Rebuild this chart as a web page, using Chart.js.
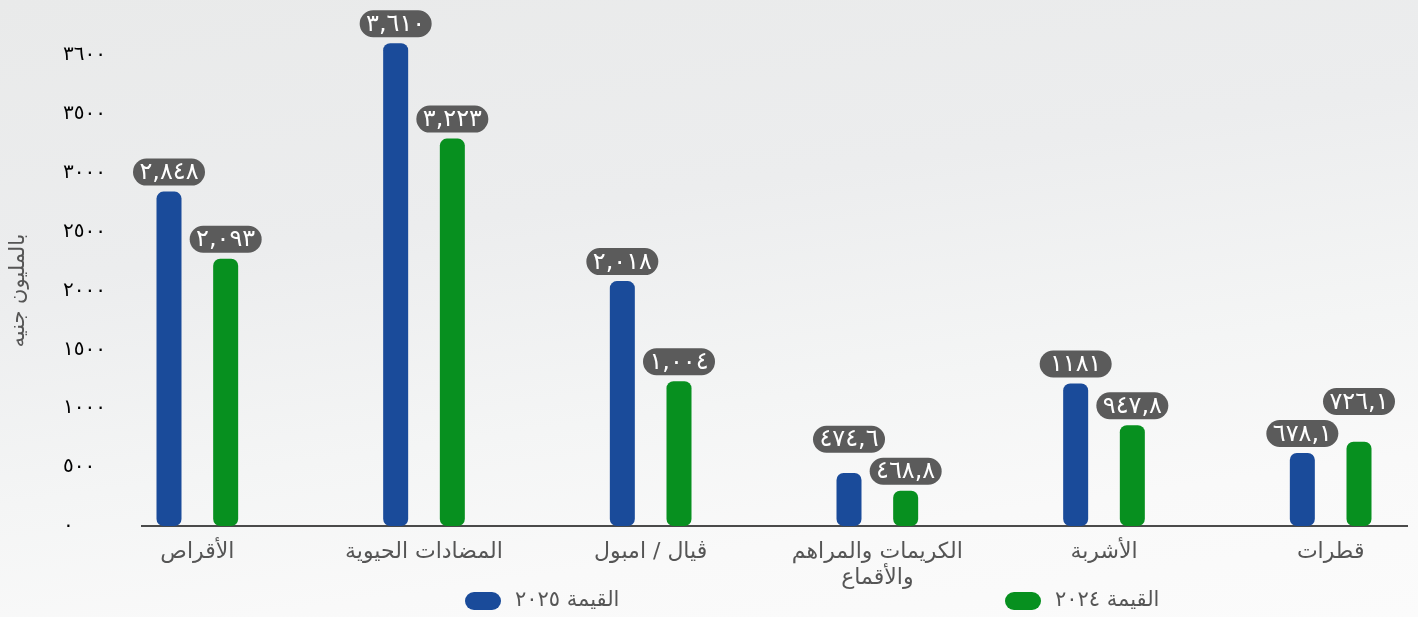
<!DOCTYPE html>
<html lang="ar">
<head>
<meta charset="utf-8">
<script src="https://cdn.jsdelivr.net/npm/chart.js@4.4.0/dist/chart.umd.min.js"></script>
<style>
html, body { margin: 0; padding: 0; }
body {
	width: 1418px; height: 617px; overflow: hidden;
	background: linear-gradient(172deg, #e9eaea 0%, #ecedee 35%, #f4f5f5 62%, #f9f9f9 80%, #fbfbfb 100%);
}
</style>
</head>
<body>
<canvas id="mycanvas" width="1444" height="617"></canvas>
<script>
var categories = ['الأقراص', 'المضادات الحيوية', 'ڤيال / امبول', ['الكريمات والمراهم', 'والأقماع'], 'الأشربة', 'قطرات'];
var seriesNames = ['القيمة ٢٠٢٥', 'القيمة ٢٠٢٤'];

// bar heights
var values2025 = [2840, 4100, 2080, 450, 1210, 620];
var values2024 = [2270, 3290, 1230, 300, 855, 715];

// texts printed in the pills
var labels2025 = ['٢,٨٤٨', '٣,٦١٠', '٢,٠١٨', '٤٧٤,٦', '١١٨١', '٦٧٨,١'];
var labels2024 = ['٢,٠٩٣', '٣,٢٢٣', '١,٠٠٤', '٤٦٨,٨', '٩٤٧,٨', '٧٢٦,١'];

var yTickLabels = ['٠', '٥٠٠', '١٠٠٠', '١٥٠٠', '٢٠٠٠', '٢٥٠٠', '٣٠٠٠', '٣٥٠٠', '٣٦٠٠'];
var yTitle = 'بالمليون جنيه';

var blue = '#1a4b9a';
var green = '#07901f';
var arabicFont = '"DejaVu Sans", sans-serif';

function pillPath(ctx, x, y, w, h) {
	var r = h / 2;
	ctx.beginPath();
	ctx.moveTo(x + r, y);
	ctx.lineTo(x + w - r, y);
	ctx.arc(x + w - r, y + r, r, -Math.PI / 2, Math.PI / 2);
	ctx.lineTo(x + r, y + h);
	ctx.arc(x + r, y + r, r, Math.PI / 2, Math.PI * 1.5);
	ctx.closePath();
}

// baseline under the bars, shorter than the chart area like the original
var baseLine = {
	id: 'baseLine',
	beforeDatasetsDraw: function(chart) {
		var ctx = chart.ctx;
		var y = chart.scales.y.getPixelForValue(0);
		ctx.save();
		ctx.strokeStyle = '#111111';
		ctx.lineWidth = 1.5;
		ctx.beginPath();
		ctx.moveTo(141, y);
		ctx.lineTo(1408, y);
		ctx.stroke();
		ctx.restore();
	}
};

var pillLabels = {
	id: 'pillLabels',
	afterDatasetsDraw: function(chart) {
		var ctx = chart.ctx;
		var texts = [labels2025, labels2024];
		var w = 72, h = 27, gap = 6;
		var pills = [[], []];
		chart.data.datasets.forEach(function(ds, d) {
			chart.getDatasetMeta(d).data.forEach(function(bar, i) {
				pills[d][i] = {x: bar.x, top: bar.y, bottom: bar.y - gap, text: texts[d][i]};
			});
		});
		// lift the taller bar's pill when the two collide
		for (var i = 0; i < categories.length; i++) {
			var a = pills[0][i], b = pills[1][i];
			if (Math.abs(a.x - b.x) < w && Math.abs(a.bottom - b.bottom) < h + 4) {
				var hi = a.top < b.top ? a : b;
				var lo = hi === a ? b : a;
				hi.bottom = lo.bottom - h - 5;
			}
		}
		ctx.save();
		ctx.font = '24px ' + arabicFont;
		ctx.textAlign = 'center';
		ctx.textBaseline = 'middle';
		pills.forEach(function(list) {
			list.forEach(function(p) {
				pillPath(ctx, p.x - w / 2, p.bottom - h, w, h);
				ctx.fillStyle = '#5b5b5b';
				ctx.fill();
				ctx.fillStyle = '#ffffff';
				ctx.fillText(p.text, p.x, p.bottom - h / 2 + 1);
			});
		});
		ctx.restore();
	}
};

var bottomLegend = {
	id: 'bottomLegend',
	afterDraw: function(chart) {
		var ctx = chart.ctx;
		var xs = [465, 1005];
		var y = 601;
		ctx.save();
		ctx.font = '21px ' + arabicFont;
		ctx.textAlign = 'left';
		ctx.textBaseline = 'middle';
		chart.data.datasets.forEach(function(ds, d) {
			pillPath(ctx, xs[d], y - 9, 36, 18);
			ctx.fillStyle = ds.backgroundColor;
			ctx.fill();
			ctx.fillStyle = '#555555';
			ctx.fillText(ds.label, xs[d] + 50, y);
		});
		ctx.restore();
	}
};

var chartdata = {
	labels: categories,
	datasets: [
		{
			label: seriesNames[0],
			backgroundColor: blue,
			data: values2025
		}, {
			label: seriesNames[1],
			backgroundColor: green,
			data: values2024
		}
	]
};

var ctx = document.getElementById('mycanvas');

var barGraph = new Chart(ctx, {
	type: 'bar',
	data: chartdata,
	plugins: [baseLine, pillLabels, bottomLegend],
	options: {
		responsive: false,
		animation: false,
		layout: {padding: {top: 55, right: 0, bottom: 0, left: 0}},
		datasets: {
			bar: {
				categoryPercentage: 0.5,
				barPercentage: 0.45,
				maxBarThickness: 25,
				borderRadius: 7,
				borderSkipped: false,
				clip: false
			}
		},
		plugins: {
			legend: {display: false},
			tooltip: {enabled: false}
		},
		scales: {
			x: {
				grid: {display: false},
				border: {display: false},
				ticks: {
					color: '#555555',
					padding: 6,
					font: {family: arabicFont, size: 22, lineHeight: 1.15}
				},
				afterFit: function(s) { s.height = 91; }
			},
			y: {
				min: 0,
				max: 4000,
				grid: {display: false},
				border: {display: false},
				ticks: {
					stepSize: 500,
					mirror: true,
					padding: -21,
					color: '#000000',
					font: {family: arabicFont, size: 20},
					callback: function(value, index) { return yTickLabels[index]; }
				},
				title: {
					display: true,
					text: yTitle,
					color: '#555555',
					padding: {top: 6},
					font: {family: arabicFont, size: 21}
				},
				afterFit: function(s) { s.width = 84; }
			}
		}
	}
});
</script>
</body>
</html>
